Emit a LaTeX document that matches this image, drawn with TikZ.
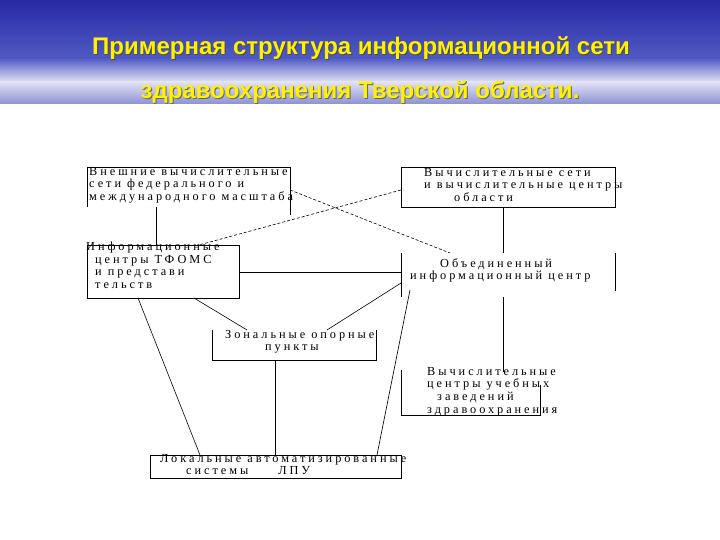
\documentclass[tikz,border=0pt]{standalone}
\usepackage{fontspec}
\setmainfont{Liberation Serif}
\newfontfamily\hdr{Liberation Sans}
\begin{document}
\begin{tikzpicture}[x=1pt,y=-1pt,
  ln/.style={line width=0.8pt,black},
  dsh/.style={line width=0.6pt,black,dash pattern=on 3pt off 2pt},
  lbl/.style={font=\fontsize{12.3}{12.6}\selectfont\addfontfeature{LetterSpace=24},inner sep=0pt,align=left,anchor=north west},
  ttl/.style={font=\hdr\bfseries\fontsize{24}{26}\selectfont,text=yellow,inner sep=0pt}]
\useasboundingbox (0,0) rectangle (720,540);
\fill[white] (0,0) rectangle (720,540);
\shade[top color={rgb,255:red,40;green,40;blue,165}, bottom color={rgb,255:red,80;green,90;blue,195}] (0,0) rectangle (720,58);
\shade[top color={rgb,255:red,80;green,90;blue,195}, bottom color={rgb,255:red,225;green,225;blue,245}] (0,58) rectangle (720,82);
\shade[top color={rgb,255:red,225;green,225;blue,245}, bottom color={rgb,255:red,140;green,145;blue,210}] (0,82) rectangle (720,104);
\node[ttl,text=black!70] at (362,49) {Примерная структура  информационной сети};
\node[ttl] (t1) at (361,48) {Примерная структура  информационной сети};
\node[ttl,text=black!60] at (361,93) {здравоохранения Тверской  области.};
\node[ttl] (t2) at (360,92) {здравоохранения Тверской  области.};
% box A
\draw[ln] (87,207) -- (87,167) -- (290,167) -- (290,215);
\node[lbl] (a) at (89,167) {Внешние вычислительные\\сети  федерального и\\международного масштаба};
% box B
\draw[ln] (401,167) rectangle (615,207);
\node[lbl] (b) at (424,168) {Вычислительные сети\\и вычислительные центры\\\hspace{30pt}области};
% box C
\draw[ln] (87,245) rectangle (239,298);
\node[lbl] (c) at (86,242) {Информационные\\\hspace{9pt}центры ТФОМС\\\hspace{9pt}и представи\\\hspace{9pt}тельств};
% box D
\draw[ln] (401,253) -- (401,297);
\draw[ln] (615,253) -- (615,291);
\node[lbl] (d) at (410,258) {\hspace{30pt}Объединенный\\информационный центр};
% box E
\draw[ln] (212,330) -- (212,360) -- (376,360) -- (376,330);
\node[lbl] (e) at (225,330) {Зональные опорные\\\hspace{40pt}пункты};
% box F
\draw[ln] (401,370) -- (401,415) -- (540,415) -- (540,385);
\node[lbl] (f) at (427,367) {Вычислительные\\центры учебных\\\hspace{10pt}заведений\\здравоохранения};
% box G
\draw[ln] (150,455) rectangle (401,478);
\node[lbl] (g) at (160,454) {Локальные автоматизированные\\\hspace{26pt}системы\hspace{30pt}ЛПУ};
% connectors
\coordinate (a1) at (156,207); \coordinate (c1) at (156,245);
\draw[ln] (a1) -- (c1);
\coordinate (b1) at (503,207); \coordinate (d1) at (503,253);
\draw[ln] (b1) -- (d1);
\coordinate (d2) at (503,297); \coordinate (f1) at (503,372);
\draw[ln] (d2) -- (f1);
\coordinate (c2) at (239,272); \coordinate (d3) at (401,272);
\draw[ln] (c2) -- (d3);
\coordinate (a2) at (290,190); \coordinate (d4) at (450,253);
\draw[dsh] (a2) -- (d4);
\coordinate (b2) at (401,190); \coordinate (c3) at (199,245);
\draw[dsh] (b2) -- (c3);
\coordinate (c4) at (138,298); \coordinate (g1) at (200,455);
\draw[line width=0.6pt] (c4) -- (g1);
\coordinate (c5) at (194,298); \coordinate (e1) at (247,330);
\draw[line width=0.6pt] (c5) -- (e1);
\coordinate (e2) at (327,330); \coordinate (d5) at (401,283);
\draw[line width=0.6pt] (e2) -- (d5);
\coordinate (d6) at (410,290); \coordinate (g2) at (377,455);
\draw[line width=0.6pt] (d6) -- (g2);
\coordinate (e3) at (275,360); \coordinate (g3) at (275,455);
\draw[line width=0.6pt] (e3) -- (g3);
\end{tikzpicture}
\end{document}
